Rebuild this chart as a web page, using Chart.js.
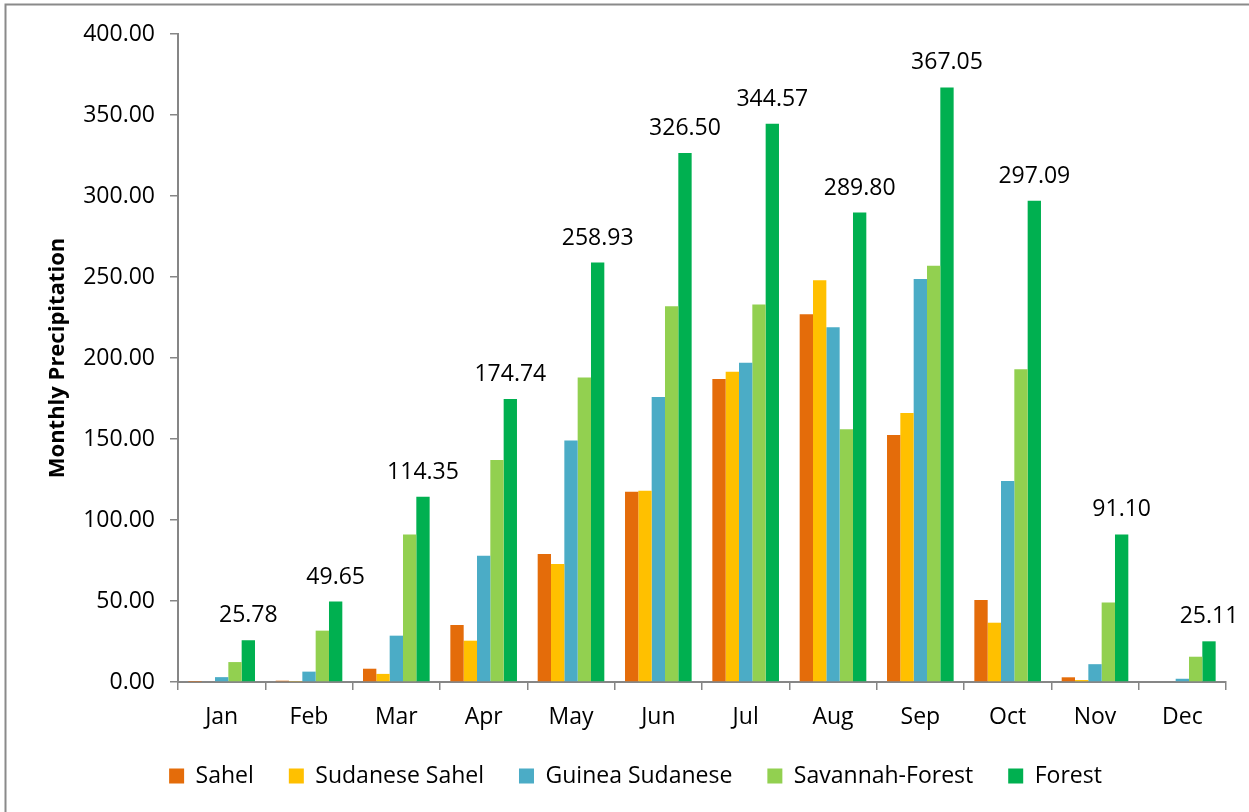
<!DOCTYPE html>
<html>
<head>
<meta charset="utf-8">
<script src="https://cdn.jsdelivr.net/npm/chart.js@4/dist/chart.umd.min.js"></script>
<style>
  html, body { margin: 0; padding: 0; background: #fff; }
  #wrap { position: relative; width: 1249px; height: 812px; overflow: hidden; }
</style>
</head>
<body>
<div id="wrap"><canvas id="c" width="1249" height="812"></canvas></div>
<script>
const months = ['Jan','Feb','Mar','Apr','May','Jun','Jul','Aug','Sep','Oct','Nov','Dec'];
const sahel = [0.2, 0.8, 8.2, 35.2, 79, 117.5, 187, 227, 152.5, 50.6, 2.9, 0];
const sudaneseSahel = [0, 0.3, 5, 25.5, 72.8, 118, 191.5, 248, 166, 36.6, 1.2, 0];
const guineaSudanese = [3, 6.4, 28.6, 78, 149, 176, 197, 219, 248.7, 124, 11, 2];
const savannahForest = [12.3, 31.7, 91, 137, 188, 232, 233, 156, 257, 193, 49, 15.6];
const forest = [25.78, 49.65, 114.35, 174.74, 258.93, 326.50, 344.57, 289.80, 367.05, 297.09, 91.10, 25.11];
const seriesNames = ['Sahel', 'Sudanese Sahel', 'Guinea Sudanese', 'Savannah-Forest', 'Forest'];
const seriesColors = ['#E46C0A', '#FFC000', '#4BACC6', '#92D050', '#00B050'];
const yTitle = 'Monthly Precipitation';

const FONT = "'Open Sans', 'Noto Sans', sans-serif";
const AXIS = '#868686';

const borderPlugin = {
  id: 'outerBorder',
  beforeDraw(chart) {
    const ctx = chart.ctx;
    ctx.save();
    ctx.fillStyle = '#fff';
    ctx.fillRect(0, 0, chart.width, chart.height);
    ctx.strokeStyle = '#8a8a8a';
    ctx.lineWidth = 2;
    ctx.strokeRect(5.5, 4.5, 2000, 2000);
    ctx.restore();
  }
};

const labelPlugin = {
  id: 'forestLabels',
  afterDatasetsDraw(chart) {
    const ctx = chart.ctx;
    const meta = chart.getDatasetMeta(4);
    ctx.save();
    ctx.font = '23px ' + FONT;
    ctx.fillStyle = '#000';
    ctx.textAlign = 'center';
    ctx.textBaseline = 'bottom';
    meta.data.forEach((el, i) => {
      ctx.fillText(forest[i].toFixed(2), el.x, el.y - 13);
    });
    ctx.restore();
  }
};

const allSeries = [sahel, sudaneseSahel, guineaSudanese, savannahForest, forest];

new Chart(document.getElementById('c'), {
  type: 'bar',
  data: {
    labels: months,
    datasets: allSeries.map((d, i) => ({
      label: seriesNames[i],
      data: d,
      backgroundColor: seriesColors[i],
      borderWidth: 0,
      categoryPercentage: 0.763,
      barPercentage: 1.0
    }))
  },
  options: {
    responsive: false,
    animation: false,
    layout: { padding: { left: 45, right: 23, top: 34, bottom: 14.5 } },
    plugins: {
      tooltip: { enabled: false },
      legend: {
        position: 'bottom',
        labels: {
          font: { family: FONT, size: 23 },
          color: '#000',
          boxWidth: 15,
          boxHeight: 15,
          padding: 35
        }
      }
    },
    scales: {
      x: {
        grid: { drawOnChartArea: false, drawTicks: true, tickLength: 8, color: AXIS, lineWidth: 1.5 },
        border: { display: true, color: AXIS, width: 2 },
        ticks: { font: { family: FONT, size: 23 }, color: '#000', padding: 14, maxRotation: 0 },
        afterFit(scale) {
          scale.height = 47.5;
          scale._computeLabelArea = function () { return undefined; };
        }
      },
      y: {
        min: 0,
        max: 400,
        grid: { drawOnChartArea: false, drawTicks: true, tickLength: 8, color: AXIS, lineWidth: 1.5 },
        border: { display: true, color: AXIS, width: 2 },
        ticks: {
          stepSize: 50,
          font: { family: FONT, size: 23 },
          color: '#000',
          padding: 15,
          callback: v => Number(v).toFixed(2)
        },
        title: {
          display: true,
          text: yTitle,
          font: { family: FONT, size: 22, weight: 'bold' },
          color: '#000',
          padding: 0
        },
        afterFit(scale) { scale.width = 133; }
      }
    }
  },
  plugins: [borderPlugin, labelPlugin]
});
</script>
</body>
</html>
